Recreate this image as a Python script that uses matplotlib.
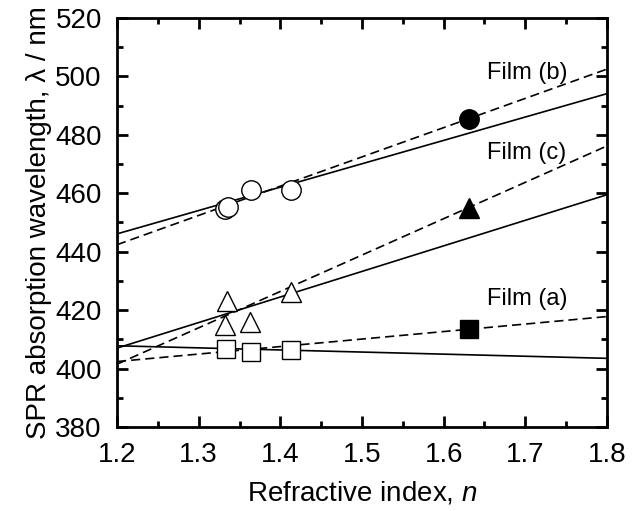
import matplotlib
matplotlib.use("Agg")
import matplotlib.pyplot as plt
from matplotlib.ticker import MultipleLocator

plt.rcParams['font.family'] = ['Liberation Sans', 'DejaVu Sans']
plt.rcParams['mathtext.fontset'] = 'custom'
plt.rcParams['mathtext.it'] = 'Liberation Sans:italic'
plt.rcParams['mathtext.rm'] = 'Liberation Sans'

# Measured points (open = measured in solvents, filled = film)
b_open_x = [1.3325, 1.3365, 1.3645, 1.413]
b_open_y = [454.6, 455.4, 461.0, 461.0]
b_fill_x = [1.631]
b_fill_y = [485.4]

c_open_x = [1.332, 1.3347, 1.3632, 1.4135]
c_open_y = [414.9, 423.2, 416.0, 426.1]
c_fill_x = [1.631]
c_fill_y = [454.9]

a_open_x = [1.334, 1.364, 1.413]
a_open_y = [406.6, 405.8, 406.4]
a_fill_x = [1.631]
a_fill_y = [413.7]

# Fit lines (end points at n = 1.2 and 1.8)
line_x = [1.2, 1.8]
b_solid = [446.1, 494.1]
b_dash = [442.4, 502.5]
c_solid = [407.0, 459.5]
c_dash = [401.5, 476.2]
a_solid = [407.8, 403.5]
a_dash = [402.4, 417.8]

labels = ["Film (b)", "Film (c)", "Film (a)"]
label_x = [1.702, 1.702, 1.702]
label_y = [501.2, 473.8, 423.8]

fig = plt.figure(figsize=(6.44, 5.11), dpi=100)
ax = fig.add_axes([0.1817, 0.1644, 0.7608, 0.8004])

lw = 1.2
dash = (0, (5.5, 3))
for ys in (b_solid, c_solid, a_solid):
    ax.plot(line_x, ys, color='black', lw=lw, zorder=2)
for ys in (b_dash, c_dash, a_dash):
    ax.plot(line_x, ys, color='black', lw=lw, linestyle=dash, zorder=2)

ms = 14
mew = 1.0
ax.plot(b_open_x, b_open_y, 'o', ms=ms, mfc='white', mec='black', mew=mew, ls='none', zorder=3)
ax.plot(b_fill_x, b_fill_y, 'o', ms=ms, mfc='black', mec='black', mew=mew, ls='none', zorder=3)
ax.plot(c_open_x, c_open_y, '^', ms=ms, mfc='white', mec='black', mew=mew, ls='none', zorder=3)
ax.plot(c_fill_x, c_fill_y, '^', ms=ms, mfc='black', mec='black', mew=mew, ls='none', zorder=3)
ax.plot(a_open_x, a_open_y, 's', ms=ms - 1, mfc='white', mec='black', mew=mew, ls='none', zorder=3)
ax.plot(a_fill_x, a_fill_y, 's', ms=ms - 1, mfc='black', mec='black', mew=mew, ls='none', zorder=3)

for t, x, y in zip(labels, label_x, label_y):
    ax.text(x, y, t, ha='center', va='center', fontsize=17)

ax.set_xlim(1.2, 1.8)
ax.set_ylim(380, 520)
ax.xaxis.set_major_locator(MultipleLocator(0.1))
ax.xaxis.set_minor_locator(MultipleLocator(0.05))
ax.yaxis.set_major_locator(MultipleLocator(20))
ax.yaxis.set_minor_locator(MultipleLocator(10))
ax.set_xticks([1.2, 1.3, 1.4, 1.5, 1.6, 1.7, 1.8])
ax.set_xticklabels(['1.2', '1.3', '1.4', '1.5', '1.6', '1.7', '1.8'])
ax.tick_params(which='both', direction='in', top=True, right=True, width=2.0, labelsize=20)
ax.tick_params(which='major', length=8, pad=11)
ax.tick_params(which='minor', length=4)
for sp in ax.spines.values():
    sp.set_linewidth(2.0)

ax.set_xlabel('Refractive index, $n$', fontsize=20, labelpad=8)
ax.set_ylabel('SPR absorption wavelength, λ / nm', fontsize=20, labelpad=2)

fig.savefig('out.png', dpi=100)
